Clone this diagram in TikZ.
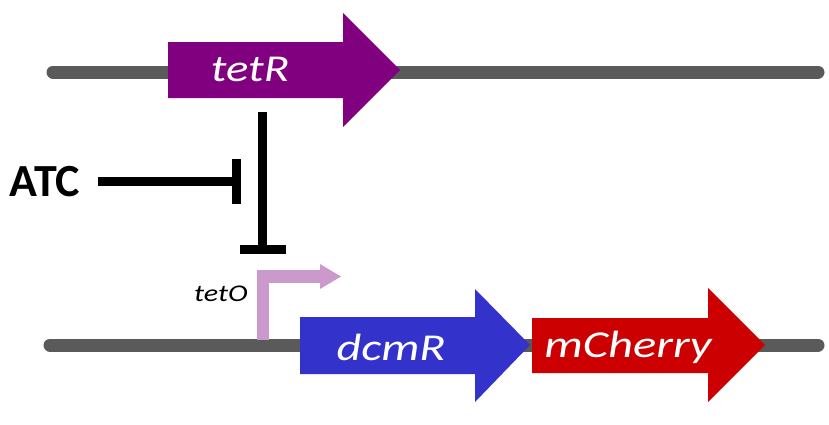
\documentclass[tikz,border=0pt]{standalone}
\usepackage{fontspec}
\setmainfont{Carlito}
\begin{document}
\begin{tikzpicture}[x=1pt,y=-1pt,
  dna/.style={line width=13pt,color=dnagray,line cap=round},
  genelabel/.style={text=white,font=\fontsize{38}{42}\selectfont\itshape,xscale=1.23,inner sep=0pt},
  inhib/.style={line width=9pt,color=black},
  promoter/.style={line width=12.5pt,color=promcol,line join=miter}]
\definecolor{dnagray}{RGB}{90,90,90}
\definecolor{tetrcol}{RGB}{128,0,128}
\definecolor{dcmrcol}{RGB}{51,51,204}
\definecolor{mchcol}{RGB}{204,0,0}
\definecolor{promcol}{RGB}{204,153,204}
\useasboundingbox (0,0) rectangle (829,424);
% DNA lines
\coordinate (topL) at (53,72);
\coordinate (topR) at (818,72);
\coordinate (botL) at (50,345);
\coordinate (botR) at (818,345);
\draw[dna] (topL) -- (topR);
\draw[dna] (botL) -- (botR);
% tetR gene
\fill[tetrcol] (168,42) -- (343,42) -- (343,13) -- (400,70) -- (343,127) -- (343,98) -- (168,98) -- cycle;
\node[genelabel] (tetR) at (250,69) {tetR};
% promoter tetO
\draw[promoter] (263,340) -- (263,276.5) -- (322,276.5);
\fill[promcol] (320,264) -- (341,276.5) -- (320,289) -- cycle;
\node[font=\fontsize{24}{27}\selectfont\itshape,xscale=1.25,inner sep=0pt] (tetO) at (221,294) {tetO};
% dcmR gene
\fill[dcmrcol] (300,317) -- (475,317) -- (475,289) -- (530,345) -- (475,402) -- (475,374) -- (300,374) -- cycle;
\node[genelabel,xscale=1.03] (dcmR) at (391,347) {dcmR};
% mCherry gene
\fill[mchcol] (532,318) -- (708,318) -- (708,288) -- (765,345) -- (708,402) -- (708,373) -- (532,373) -- cycle;
\node[genelabel,xscale=1.04] (mCherry) at (628,347) {mCherry};
% repression of tetO by TetR
\coordinate (repTop) at (262.5,112);
\coordinate (repEnd) at (262.5,249.5);
\coordinate (barL) at (240,249.5);
\coordinate (barR) at (286,249.5);
\draw[inhib] (repTop) -- (repEnd);
\draw[inhib] (barL) -- (barR);
% ATC inhibition
\node[font=\fontsize{46}{50}\selectfont\bfseries,inner sep=0pt] (ATC) at (45,182) {ATC};
\coordinate (atcStart) at (98,181.5);
\coordinate (atcEnd) at (236.5,181.5);
\coordinate (atcBarT) at (236.5,159);
\coordinate (atcBarB) at (236.5,204);
\draw[inhib] (atcStart) -- (atcEnd);
\draw[inhib] (atcBarT) -- (atcBarB);
\end{tikzpicture}
\end{document}
